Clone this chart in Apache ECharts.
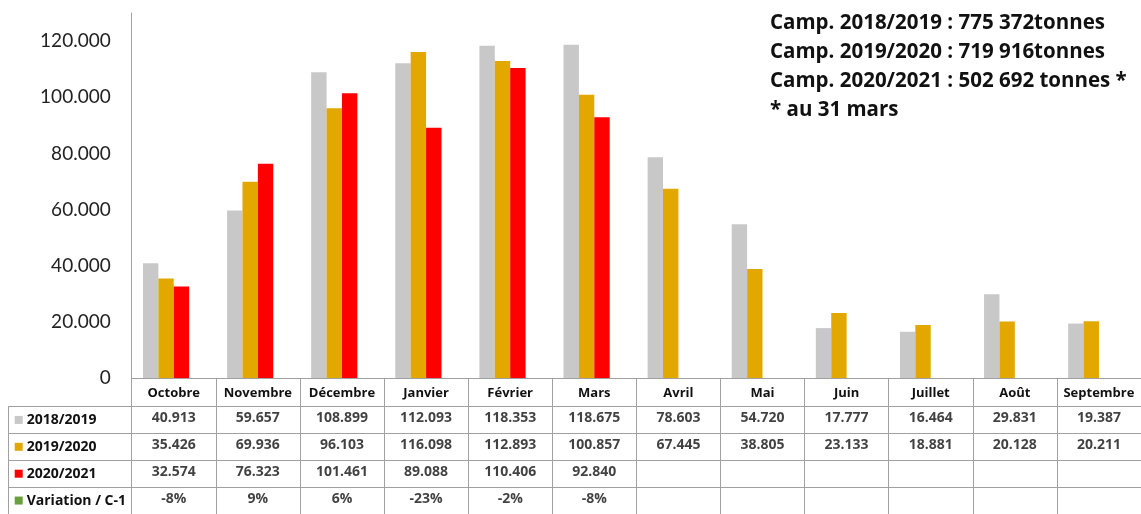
<!DOCTYPE html>
<html>
<head>
<meta charset="utf-8">
<script src="https://cdn.jsdelivr.net/npm/echarts@6/dist/echarts.min.js"></script>
<style>html,body{margin:0;padding:0;background:#fff;}#c{width:1141px;height:514px;}</style>
</head>
<body>
<div id="c"></div>
<script>
var months = ['Octobre','Novembre','Décembre','Janvier','Février','Mars','Avril','Mai','Juin','Juillet','Août','Septembre'];
var s2018 = [40913,59657,108899,112093,118353,118675,78603,54720,17777,16464,29831,19387];
var s2019 = [35426,69936,96103,116098,112893,100857,67445,38805,23133,18881,20128,20211];
var s2020 = [32574,76323,101461,89088,110406,92840,null,null,null,null,null,null];
var variation = [-8,9,6,-23,-2,-8,null,null,null,null,null,null];
var rowNames = ['2018/2019','2019/2020','2020/2021','Variation / C-1'];
var yTicks = [0,20000,40000,60000,80000,100000,120000];
var notes = ['Camp. 2018/2019 : 775 372tonnes','Camp. 2019/2020 : 719 916tonnes','Camp. 2020/2021 : 502 692 tonnes *','* au 31 mars'];

var colors = ['#c8c8c8','#e2a800','#ff0000','#6a9f3e'];
var FONT = 'Lato';
var BFONT = 'Open Sans';
var lineGray = '#a0a0a0';

function fmt(v){ return String(v).replace(/\B(?=(\d{3})+(?!\d))/g,'.'); }

var cells = [];
for (var i=0;i<months.length;i++){
  if (s2018[i]!=null) cells.push([i,0,fmt(s2018[i])]);
  if (s2019[i]!=null) cells.push([i,1,fmt(s2019[i])]);
  if (s2020[i]!=null) cells.push([i,2,fmt(s2020[i])]);
  if (variation[i]!=null) cells.push([i,3,variation[i]+'%']);
}

var chart = echarts.init(document.getElementById('c'), null, {renderer:'canvas'});
var L = 131.7, R = -1;
chart.setOption({
  animation:false,
  backgroundColor:'#fff',
  textStyle:{fontFamily:FONT},
  title:{
    left:770, top:9, padding:0,
    text: notes.join('\n'),
    textStyle:{fontFamily:BFONT, fontWeight:'bold', fontSize:20.5, lineHeight:29, color:'#111'}
  },
  grid:[
    {left:L, right:R, top:13, height:365},
    {left:L, right:R, top:406.5, height:114}
  ],
  xAxis:[
    {type:'category', gridIndex:0, data:months,
     axisLine:{show:true, lineStyle:{color:lineGray, width:1}},
     axisTick:{show:true, interval:0, length:28.5, lineStyle:{color:lineGray}},
     axisLabel:{interval:0, margin:9, color:'#111', fontFamily:BFONT, fontWeight:'bold', fontSize:13}
    },
    {type:'category', gridIndex:1, data:months,
     axisLine:{show:false}, axisTick:{show:false}, axisLabel:{show:false},
     splitLine:{show:true, interval:0, lineStyle:{color:lineGray, width:1}}
    }
  ],
  yAxis:[
    {type:'value', gridIndex:0, min:0, max:130000, interval:20000,
     axisLine:{show:true, lineStyle:{color:lineGray}},
     axisTick:{show:false}, splitLine:{show:false},
     axisLabel:{showMaxLabel:false, margin:21, color:'#222', fontFamily:FONT, fontSize:19,
       formatter:function(v){ return yTicks.indexOf(v)>=0 ? fmt(v) : ''; }}
    },
    {type:'category', gridIndex:1, data:rowNames, inverse:true,
     axisLine:{show:true, lineStyle:{color:lineGray}},
     axisTick:{show:true, interval:0, length:123.4, lineStyle:{color:lineGray}},
     splitLine:{show:true, interval:0, lineStyle:{color:lineGray}},
     axisLabel:{interval:0, align:'left', margin:117,
       formatter:function(v,idx){ return '{s'+idx+'|}{t|'+v+'}'; },
       rich:{
         s0:{backgroundColor:colors[0], width:8, height:8},
         s1:{backgroundColor:colors[1], width:8, height:8},
         s2:{backgroundColor:colors[2], width:8, height:8},
         s3:{backgroundColor:colors[3], width:8, height:8},
         t:{fontFamily:BFONT, fontWeight:'bold', fontSize:14, color:'#111', padding:[0,0,0,4]}
       }}
    }
  ],
  graphic:[
    {type:'line', shape:{x1:8.5, y1:406.5, x2:8.5, y2:520}, style:{stroke:lineGray, lineWidth:1}, silent:true}
  ],
  series:[
    {name:rowNames[0], type:'bar', xAxisIndex:0, yAxisIndex:0, data:s2018, itemStyle:{color:colors[0]}, barGap:'0%', barCategoryGap:'26.8%'},
    {name:rowNames[1], type:'bar', xAxisIndex:0, yAxisIndex:0, data:s2019, itemStyle:{color:colors[1]}},
    {name:rowNames[2], type:'bar', xAxisIndex:0, yAxisIndex:0, data:s2020, itemStyle:{color:colors[2]}},
    {name:rowNames[3], type:'bar', xAxisIndex:0, yAxisIndex:0, data:variation.map(function(v){return v==null?null:v/100;}), itemStyle:{color:colors[3]}},
    {type:'scatter', xAxisIndex:1, yAxisIndex:1, data:cells, symbolSize:1, itemStyle:{color:'rgba(0,0,0,0)'},
     label:{show:true, position:'inside', offset:[0,-1.5], formatter:function(p){return p.value[2];},
       color:'#111', fontFamily:BFONT, fontWeight:'bold', fontSize:14}}
  ]
});
</script>
</body>
</html>
